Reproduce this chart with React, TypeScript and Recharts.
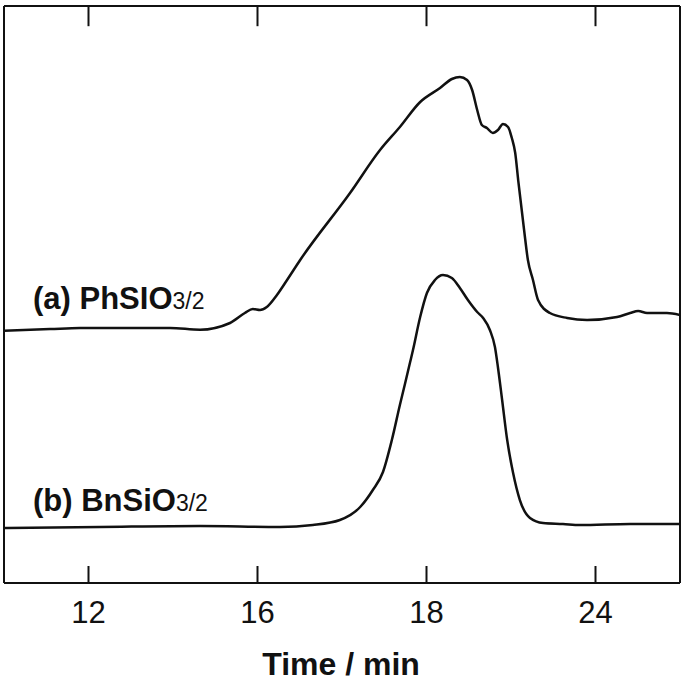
import React from "react";
import { LineChart, Line, XAxis, YAxis, ReferenceLine, Customized } from "recharts";

// GPC traces (x in the plotted time scale, y = detector response, arbitrary units)
const timeA = [10.0, 11.09, 11.8, 13.93, 14.64, 15.35, 15.7, 15.89, 16.06, 16.22, 16.46, 16.7, 17.01, 18.19, 18.9, 19.37, 19.85, 20.32, 20.6, 20.79, 20.96, 21.08, 21.2, 21.31, 21.43, 21.57, 21.69, 21.81, 21.93, 22.02, 22.1, 22.17, 22.31, 22.4, 22.52, 22.64, 22.92, 23.33, 23.8, 24.51, 24.82, 25.01, 25.22, 25.69, 26.0];
const signalA = [43.7, 44.0, 44.2, 44.2, 43.9, 45.06, 46.79, 47.49, 47.31, 47.83, 49.91, 52.51, 55.98, 67.59, 75.04, 79.03, 83.36, 85.79, 87.35, 87.69, 87.18, 85.44, 81.98, 79.38, 78.86, 77.99, 78.51, 79.55, 79.03, 77.12, 74.52, 69.84, 61.18, 55.98, 52.51, 49.05, 46.79, 45.93, 45.58, 46.1, 46.79, 47.14, 46.79, 46.79, 46.45];

const timeB = [10.0, 12.27, 14.64, 16.53, 17.31, 17.95, 18.43, 18.73, 18.97, 19.18, 19.37, 19.49, 19.61, 19.68, 19.85, 20.01, 20.2, 20.39, 20.6, 20.79, 20.98, 21.2, 21.34, 21.5, 21.62, 21.69, 21.79, 21.91, 22.05, 22.21, 22.45, 22.76, 23.23, 23.63, 24.82, 26.0];
const signalB = [9.53, 9.71, 9.88, 9.71, 10.05, 10.92, 13.17, 16.12, 19.24, 24.78, 30.85, 34.5, 38.2, 40.38, 46.1, 50.26, 52.51, 53.38, 52.86, 51.13, 49.05, 46.97, 45.93, 43.85, 40.9, 37.44, 31.72, 24.78, 19.06, 14.38, 11.27, 10.4, 10.23, 10.05, 10.23, 10.23];

const tickValues = [12, 16, 20, 24];
const tickLabels = ["12", "16", "18", "24"];
const seriesNames = ["(a) PhSIO", "(b) BnSiO"];
const seriesSub = ["3/2", "3/2"];
const xTitle = "Time / min";

const X_DOMAIN: [number, number] = [10, 26];
const Y_DOMAIN: [number, number] = [0, 100];
const TOP_TICK_LEN = 3.5; // in y units (inward ticks on the top frame)

const dataA = timeA.map((t, i) => ({ t, v: signalA[i] }));
const dataB = timeB.map((t, i) => ({ t, v: signalB[i] }));

const FONT = "'Liberation Sans', Arial, Helvetica, sans-serif";
const INK = "#111";

const BottomTick = (props: any) => {
  const { x, y, payload } = props;
  const idx = tickValues.indexOf(payload.value);
  return (
    <g>
      <line x1={x} x2={x} y1={y} y2={y - 17} stroke={INK} strokeWidth={2} />
      <text x={x} y={y + 40} textAnchor="middle" fontFamily={FONT} fontSize={31} fill={INK}>
        {idx >= 0 ? tickLabels[idx] : payload.value}
      </text>
    </g>
  );
};

const Annotations = () => (
  <g fontFamily={FONT} fontWeight="bold" fill={INK}>
    <text x={33} y={309} fontSize={31}>
      {seriesNames[0]}
      <tspan fontSize={23} fontWeight="normal">{seriesSub[0]}</tspan>
    </text>
    <text x={33} y={511} fontSize={31}>
      {seriesNames[1]}
      <tspan fontSize={23} fontWeight="normal">{seriesSub[1]}</tspan>
    </text>
    <text x={341} y={675} fontSize={32} textAnchor="middle">
      {xTitle}
    </text>
  </g>
);

export default function App() {
  return (
    <div style={{ position: "absolute", left: 0, top: 0, width: 685, height: 685, background: "#fff" }}>
      <LineChart width={685} height={685} margin={{ top: 6, right: 5, left: 3, bottom: 0 }}>
        <XAxis
          dataKey="t"
          type="number"
          domain={X_DOMAIN}
          allowDataOverflow
          ticks={tickValues}
          tick={<BottomTick />}
          tickLine={false}
          tickSize={0}
          tickMargin={0}
          height={102}
          axisLine={{ stroke: INK, strokeWidth: 2 }}
          interval={0}
        />
        <YAxis
          type="number"
          domain={Y_DOMAIN}
          allowDataOverflow
          width={1}
          tick={false}
          tickLine={false}
          axisLine={{ stroke: INK, strokeWidth: 2 }}
        />
        <ReferenceLine y={Y_DOMAIN[1]} stroke={INK} strokeWidth={2} ifOverflow="visible" />
        <ReferenceLine x={X_DOMAIN[1]} stroke={INK} strokeWidth={2} ifOverflow="visible" />
        {tickValues.map((t) => (
          <ReferenceLine
            key={t}
            segment={[
              { x: t, y: Y_DOMAIN[1] },
              { x: t, y: Y_DOMAIN[1] - TOP_TICK_LEN },
            ]}
            stroke={INK}
            strokeWidth={2}
            ifOverflow="visible"
          />
        ))}
        <Line
          data={dataA}
          dataKey="v"
          type="monotone"
          stroke={INK}
          strokeWidth={2.5}
          dot={false}
          isAnimationActive={false}
        />
        <Line
          data={dataB}
          dataKey="v"
          type="monotone"
          stroke={INK}
          strokeWidth={2.5}
          dot={false}
          isAnimationActive={false}
        />
        <Customized component={Annotations} />
      </LineChart>
    </div>
  );
}
